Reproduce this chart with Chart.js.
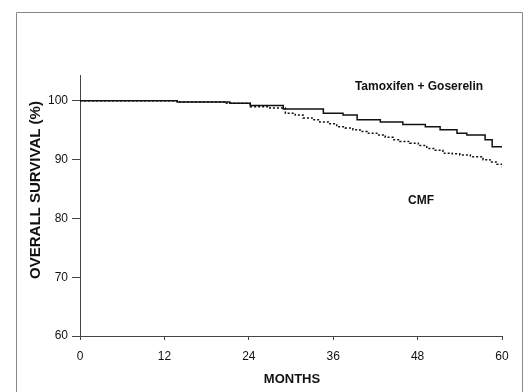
<!DOCTYPE html>
<html lang="en">
<head>
  <meta charset="UTF-8">
  <title>Overall survival</title>
  <style>
    body {
      margin: 0;
      background: #fff;
    }

    #chart-container {
      width: 529px;
      height: 392px;
      position: relative;
    }
  </style>
</head>
<body>

<div id="chart-container">
  <canvas id="survivalChart"></canvas>
</div>

<script src="https://cdn.jsdelivr.net/npm/chart.js"></script>
<script>

  // Tamoxifen + Goserelin (solid)
  const tgMonths   = [0, 13.8, 21.3, 24.2, 28.9, 34.6, 37.4, 39.4, 42.7, 45.9, 49.1, 51.2, 53.6, 55.0, 57.6, 58.6, 60];
  const tgSurvival = [100, 99.8, 99.6, 99.2, 98.6, 97.9, 97.6, 96.8, 96.4, 96.0, 95.6, 95.1, 94.5, 94.2, 93.4, 92.2, 92.2];

  // CMF (dotted)
  const cmfMonths   = [0, 14.2, 20.5, 24.2, 27.0, 29.2, 30.6, 31.7, 33.0, 34.1, 35.3, 36.5, 37.7, 38.8, 39.8, 40.8, 42.2, 43.4, 44.5, 45.5, 46.9, 48.1, 49.3, 50.5, 51.6, 52.9, 54.0, 55.5, 57.3, 58.3, 59.3, 60];
  const cmfSurvival = [100, 99.8, 99.6, 99.0, 98.8, 97.9, 97.6, 97.1, 96.8, 96.4, 96.1, 95.6, 95.4, 95.1, 94.8, 94.5, 94.2, 93.8, 93.4, 93.1, 92.8, 92.4, 91.9, 91.6, 91.1, 91.0, 90.8, 90.5, 90.0, 89.6, 89.2, 88.7];

  const xTicks = [0, 12, 24, 36, 48, 60];
  const yTicks = [60, 70, 80, 90, 100];

  const toPoints = (xs, ys) => xs.map((x, i) => ({ x: x, y: ys[i] }));

  const FONT = "'Liberation Sans', Arial, sans-serif";
  const INK = '#111';

  // frame, axis titles and curve labels
  const decorations = {
    id: 'decorations',
    afterDraw(chart) {
      const ctx = chart.ctx;
      const xs = chart.scales.x;
      const ys = chart.scales.y;
      ctx.save();

      ctx.strokeStyle = '#888';
      ctx.lineWidth = 1;
      ctx.beginPath();
      ctx.moveTo(16.5, 392);
      ctx.lineTo(16.5, 12.5);
      ctx.lineTo(522.5, 12.5);
      ctx.lineTo(522.5, 392);
      ctx.stroke();

      ctx.fillStyle = '#111';
      ctx.textAlign = 'center';
      ctx.textBaseline = 'middle';

      ctx.font = 'bold 13px ' + FONT;
      ctx.fillText('MONTHS', 292, 379);

      ctx.save();
      ctx.translate(36, 190);
      ctx.rotate(-Math.PI / 2);
      ctx.font = 'bold 15px ' + FONT;
      ctx.fillText('OVERALL SURVIVAL (%)', 0, 0);
      ctx.restore();

      ctx.font = 'bold 12px ' + FONT;
      ctx.fillText('Tamoxifen + Goserelin', xs.getPixelForValue(48.2), ys.getPixelForValue(102.4));
      ctx.fillText('CMF', xs.getPixelForValue(48.5), ys.getPixelForValue(83.1));

      ctx.restore();
    }
  };

  const data = {
    datasets: [{
      label: 'Tamoxifen + Goserelin',
      data: toPoints(tgMonths, tgSurvival),
      borderColor: '#111',
      borderWidth: 1.5,
      stepped: 'before',
      pointRadius: 0,
      fill: false
    }, {
      label: 'CMF',
      data: toPoints(cmfMonths, cmfSurvival),
      borderColor: '#111',
      borderWidth: 1.5,
      borderDash: [2, 2],
      stepped: 'before',
      pointRadius: 0,
      fill: false
    }]
  };

  const config = {
    type: 'line',
    data: data,
    options: {
      responsive: false,
      animation: false,
      layout: {
        padding: { left: 0, right: 27, top: 75, bottom: 0 }
      },
      plugins: {
        legend: { display: false },
        tooltip: { enabled: false }
      },
      scales: {
        x: {
          type: 'linear',
          min: 0,
          max: 60,
          afterBuildTicks: scale => { scale.ticks = xTicks.map(v => ({ value: v })); },
          afterFit: scale => { scale.height = 56; },
          border: { color: '#444', width: 1 },
          grid: { drawOnChartArea: false, drawTicks: true, tickLength: 4, color: '#444' },
          ticks: { color: INK, font: { family: FONT, size: 12 }, padding: 9, maxRotation: 0 }
        },
        y: {
          min: 60,
          max: 104.4,
          afterBuildTicks: scale => { scale.ticks = yTicks.map(v => ({ value: v })); },
          afterFit: scale => { scale.width = 80; },
          border: { color: '#444', width: 1 },
          grid: { drawOnChartArea: false, drawTicks: true, tickLength: 8, color: '#444' },
          ticks: { color: INK, font: { family: FONT, size: 12 }, padding: 4 }
        }
      }
    },
    plugins: [decorations]
  };

  const canvas = document.getElementById('survivalChart');
  canvas.width = 529;
  canvas.height = 392;
  const survivalChart = new Chart(canvas.getContext('2d'), config);
</script>

</body>
</html>
